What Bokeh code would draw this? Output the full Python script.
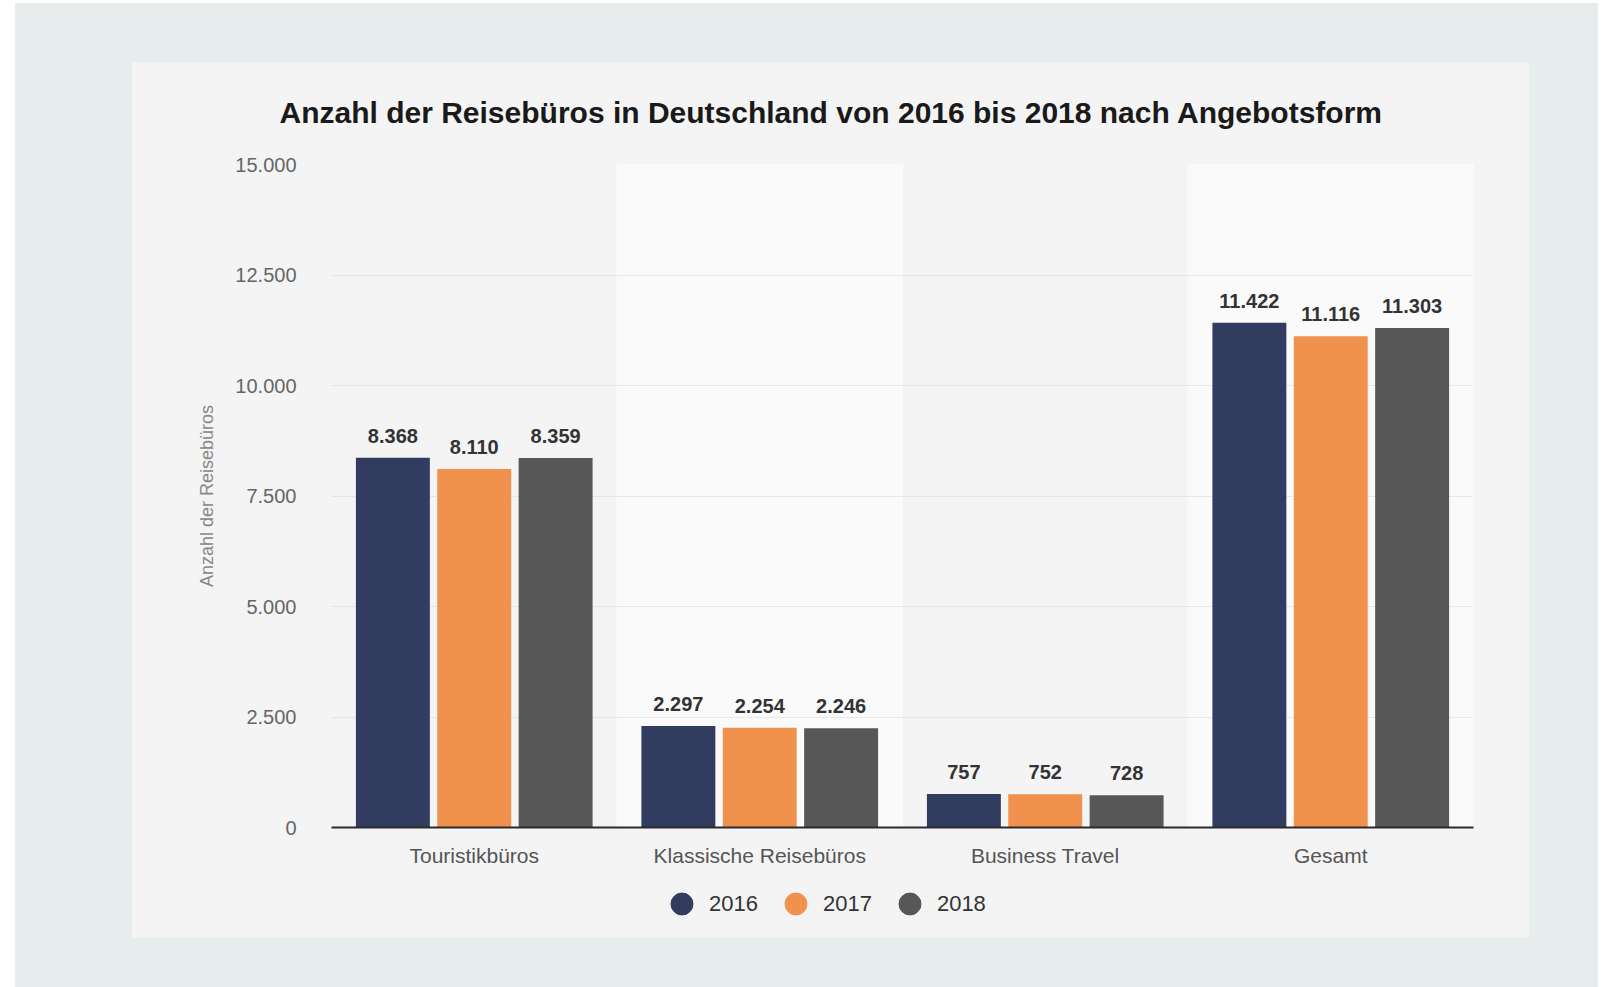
from bokeh.plotting import figure
from bokeh.models import (ColumnDataSource, FactorRange, Range1d, Legend, LegendItem,
                          CustomJSTickFormatter, FixedTicker)
from bokeh.transform import dodge
from bokeh.layouts import column
from bokeh.core.properties import value
from bokeh.embed import file_html
from bokeh.resources import INLINE

# ---- data ----
categories = ["Touristikbüros", "Klassische Reisebüros", "Business Travel", "Gesamt"]
years = ["2016", "2017", "2018"]
values_2016 = [8368, 2297, 757, 11422]
values_2017 = [8110, 2254, 752, 11116]
values_2018 = [8359, 2246, 728, 11303]
y_ticks = [0, 2500, 5000, 7500, 10000, 12500, 15000]
y_max = 15000
highlight_cats = ["Klassische Reisebüros", "Gesamt"]
title_text = "Anzahl der Reisebüros in Deutschland von 2016 bis 2018 nach Angebotsform"
y_label = "Anzahl der Reisebüros"

colors = ["#323b60", "#f0914e", "#575757"]
FONT = "Liberation Sans"
PANEL = "#f4f4f4"
OUTER = "#e7ecec"


def de_fmt(v):
    return f"{v:,}".replace(",", ".")


series = [values_2016, values_2017, values_2018]
data = {"cat": categories}
for yr, vals in zip(years, series):
    data["v" + yr] = vals
    data["l" + yr] = [de_fmt(v) for v in vals]
src = ColumnDataSource(data)

# ---- main chart ----
p = figure(x_range=FactorRange(*categories), y_range=Range1d(0, y_max),
           width=1397, height=808, output_backend="svg", toolbar_location=None,
           min_border_left=199, min_border_right=56, min_border_top=102, min_border_bottom=43)
p.border_fill_alpha = 0
p.background_fill_alpha = 0
p.outline_line_color = None

# title
p.title.text = title_text
p.title.align = "left"
p.title.vertical_align = "top"
p.title.offset = -52
p.title.standoff = 67
p.title.text_font = FONT
p.title.text_font_size = "30px"
p.title.text_font_style = "bold"
p.title.text_color = "#1a1a1a"

# alternating bands
p.vbar(x=highlight_cats, top=y_max, bottom=0, width=1, color="#fafafa", level="image")

# grid
p.xgrid.visible = False
p.ygrid.ticker = FixedTicker(ticks=y_ticks)
p.ygrid.grid_line_color = "#d6d6d6"
p.ygrid.grid_line_dash = "1 1"
p.ygrid.grid_line_width = 1

# axes
p.yaxis.ticker = FixedTicker(ticks=y_ticks)
p.yaxis.formatter = CustomJSTickFormatter(
    code="return String(Math.round(tick)).replace(/\\B(?=(\\d{3})+(?!\\d))/g, '.');")
p.yaxis.axis_line_color = None
p.yaxis.major_tick_line_color = None
p.yaxis.minor_tick_line_color = None
p.yaxis.major_tick_out = 0
p.yaxis.major_tick_in = 0
p.yaxis.major_label_standoff = 35
p.yaxis.major_label_text_font = FONT
p.yaxis.major_label_text_font_size = "20px"
p.yaxis.major_label_text_color = "#666666"
p.yaxis.axis_label = y_label
p.yaxis.axis_label_text_font = FONT
p.yaxis.axis_label_text_font_size = "18px"
p.yaxis.axis_label_text_font_style = "normal"
p.yaxis.axis_label_text_color = "#888888"
p.yaxis.axis_label_standoff = 15

p.xaxis.axis_line_color = "#2b2b2b"
p.xaxis.axis_line_width = 2
p.xaxis.major_tick_line_color = None
p.xaxis.major_tick_out = 0
p.xaxis.major_tick_in = 0
p.xaxis.major_label_standoff = 16
p.xaxis.major_label_text_font = FONT
p.xaxis.major_label_text_font_size = "21px"
p.xaxis.major_label_text_color = "#555555"

# bars and labels
offsets = [-0.285, 0.0, 0.285]
for yr, off, col in zip(years, offsets, colors):
    xd = dodge("cat", off, range=p.x_range)
    p.vbar(x=xd, top="v" + yr, width=0.259, source=src, fill_color=col, line_color=None)
    p.text(x=xd, y="v" + yr, text="l" + yr, source=src, text_align="center",
           text_baseline="bottom", y_offset=-15, text_font=value(FONT),
           text_font_style="bold", text_font_size="20px", text_color="#333333")

# ---- legend strip (same panel, below the chart) ----
lg = figure(width=1397, height=68, output_backend="svg", toolbar_location=None,
            x_range=Range1d(0, 1), y_range=Range1d(0, 1),
            min_border=0, x_axis_type=None, y_axis_type=None)
lg.border_fill_alpha = 0
lg.background_fill_alpha = 0
lg.outline_line_color = None
lg.grid.visible = False

items = []
for yr, col in zip(years, colors):
    # legend-only renderer: its single point lies outside the strip's visible range
    r = lg.scatter(x=[-1], y=[-1], marker="circle", size=22, fill_color=col, line_color=col)
    items.append(LegendItem(label=yr, renderers=[r]))
legend = Legend(items=items, orientation="horizontal", location=(323, 7),
                glyph_width=55, glyph_height=55, label_standoff=-8, spacing=10,
                padding=0, margin=0, border_line_color=None, background_fill_alpha=0,
                label_text_font=FONT, label_text_font_size="22px", label_text_color="#333333")
lg.add_layout(legend)

inner = column(p, lg, width=1397, height=876, margin=(59, 69, 49, 117), spacing=0,
               styles={"background-color": PANEL})
layout = column(inner, width=1583, height=984, margin=(3, 0, 0, 15), spacing=0,
                styles={"background-color": OUTER})

open("out.html", "w").write(file_html(layout, INLINE))
